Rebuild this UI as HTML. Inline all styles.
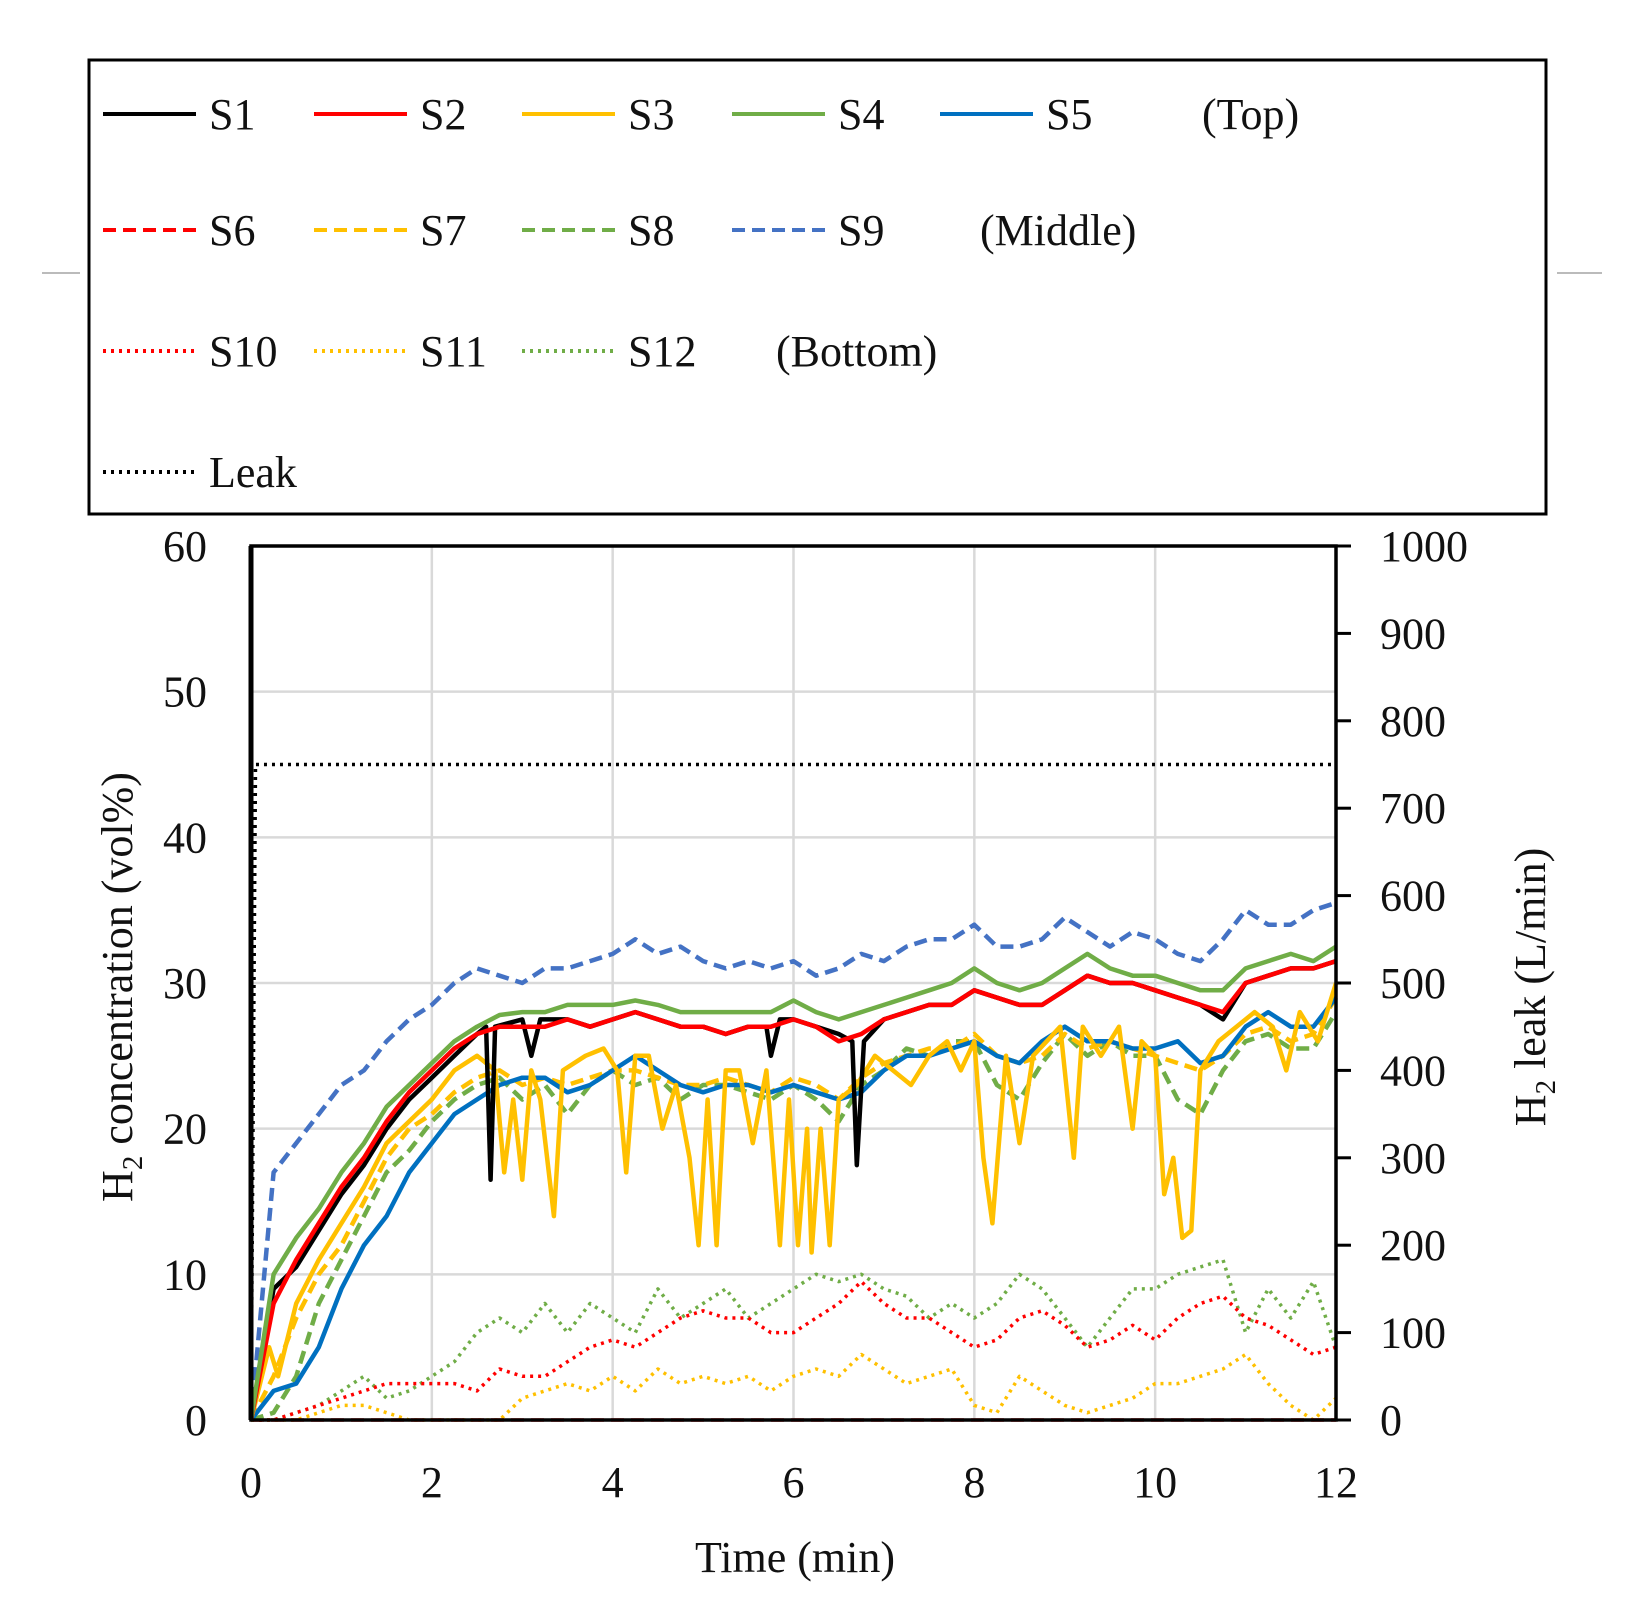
<!DOCTYPE html>
<html><head><meta charset="utf-8"><style>
html,body{margin:0;padding:0;background:#fff;}
svg{display:block;font-family:"Liberation Serif",serif;}
</style></head><body>
<svg id="chart" width="1648" height="1613" viewBox="0 0 1648 1613" xmlns="http://www.w3.org/2000/svg">
<g id="grid"></g>
<g id="series"></g>
<g id="axes"></g>
<g id="legend"></g>
</svg>
<script>
const NS="http://www.w3.org/2000/svg";
const xTicks=[0,2,4,6,8,10,12];
const yTicks=[0,10,20,30,40,50,60];
const y2Ticks=[0,100,200,300,400,500,600,700,800,900,1000];
const T=[0,0.25,0.5,0.75,1,1.25,1.5,1.75,2,2.25,2.5,2.75,3,3.25,3.5,3.75,4,4.25,4.5,4.75,5,5.25,5.5,5.75,6,6.25,6.5,6.75,7,7.25,7.5,7.75,8,8.25,8.5,8.75,9,9.25,9.5,9.75,10,10.25,10.5,10.75,11,11.25,11.5,11.75,12];
const s1Times=[0,0.25,0.5,0.75,1,1.25,1.5,1.75,2,2.25,2.5,2.6,2.65,2.7,3,3.1,3.2,3.5,3.75,4,4.25,4.5,4.75,5,5.25,5.5,5.7,5.75,5.85,6,6.25,6.5,6.65,6.7,6.78,7,7.25,7.5,7.75,8,8.25,8.5,8.75,9,9.25,9.5,9.75,10,10.25,10.5,10.75,11,11.25,11.5,11.75,12];
const s1Values=[0,9,10.5,13,15.5,17.5,20,22,23.5,25,26.5,27,16.5,27,27.5,25,27.5,27.5,27,27.5,28,27.5,27,27,26.5,27,27,25,27.5,27.5,27,26.5,26,17.5,26,27.5,28,28.5,28.5,29.5,29,28.5,28.5,29.5,30.5,30,30,29.5,29,28.5,27.5,30,30.5,31,31,31.5];
const s2Values=[0,8,11,13.5,16,18,20.5,22.5,24,25.5,26.5,27,27,27,27.5,27,27.5,28,27.5,27,27,26.5,27,27,27.5,27,26,26.5,27.5,28,28.5,28.5,29.5,29,28.5,28.5,29.5,30.5,30,30,29.5,29,28.5,28,30,30.5,31,31,31.5];
const s3Times=[0,0.2,0.3,0.5,0.75,1,1.25,1.5,1.75,2,2.25,2.5,2.7,2.8,2.9,3.0,3.1,3.2,3.35,3.45,3.7,3.9,4.05,4.15,4.25,4.4,4.55,4.7,4.85,4.95,5.05,5.15,5.25,5.4,5.55,5.7,5.85,5.95,6.05,6.15,6.2,6.3,6.4,6.5,6.7,6.9,7.1,7.3,7.5,7.7,7.85,8.0,8.1,8.2,8.35,8.5,8.65,8.8,8.95,9.1,9.2,9.4,9.6,9.75,9.85,10,10.1,10.2,10.3,10.4,10.5,10.7,10.9,11.1,11.3,11.45,11.6,11.8,12];
const s3Values=[0,5,3,8,11,13.5,16,19,20.5,22,24,25,24,17,22,16.5,24,22,14,24,25,25.5,24,17,25,25,20,23,18,12,22,12,24,24,19,24,12,22,12,20,11.5,20,12,22,23,25,24,23,25,26,24,26,18,13.5,25,19,25,26,27,18,27,25,27,20,26,25,15.5,18,12.5,13,24,26,27,28,27,24,28,26,30];
const s4Values=[0,10,12.5,14.5,17,19,21.5,23,24.5,26,27,27.8,28,28,28.5,28.5,28.5,28.8,28.5,28,28,28,28,28,28.8,28,27.5,28,28.5,29,29.5,30,31,30,29.5,30,31,32,31,30.5,30.5,30,29.5,29.5,31,31.5,32,31.5,32.5];
const s5Values=[0,2,2.5,5,9,12,14,17,19,21,22,23,23.5,23.5,22.5,23,24,25,24,23,22.5,23,23,22.5,23,22.5,22,22.5,24,25,25,25.5,26,25,24.5,26,27,26,26,25.5,25.5,26,24.5,25,27,28,27,27,29];
const s6Values=[0,0,0,0,0,0,0,0,0,0,0,0,0,0,0,0,0,0,0,0,0,0,0,0,0,0,0,0,0,0,0,0,0,0,0,0,0,0,0,0,0,0,0,0,0,0,0,0,0];
const s7Values=[0,3,7,10,12,15,18,20,21,22.5,23.5,24,23,23.5,23,23.5,24,24,23.5,23,23,23.5,23,22.5,23.5,23,22,23.5,24.5,25,25.5,25.5,26.5,25,24.5,25,26.5,25.5,26,25.5,25,24.5,24,25,26.5,27,26,26.5,29];
const s8Values=[0,0.5,3,8,11,14,17,18.5,20.5,22,23,23.5,22,23,21,23,24,23,23.5,22,23,23,22.5,22,23,22,20.5,23,24,25.5,25,26,26,23,22,24.5,26.5,25,26,25,25,22,21,24,26,26.5,25.5,25.5,28];
const s9Values=[0,17,19,21,23,24,26,27.5,28.5,30,31,30.5,30,31,31,31.5,32,33,32,32.5,31.5,31,31.5,31,31.5,30.5,31,32,31.5,32.5,33,33,34,32.5,32.5,33,34.5,33.5,32.5,33.5,33,32,31.5,33,35,34,34,35,35.5];
const s10Values=[0,0,0.5,1,1.5,2,2.5,2.5,2.5,2.5,2,3.5,3,3,4,5,5.5,5,6,7,7.5,7,7,6,6,7,8,9.5,8,7,7,6,5,5.5,7,7.5,6.5,5,5.5,6.5,5.5,7,8,8.5,7,6.5,5.5,4.5,5];
const s11Values=[0,0,0,0.5,1,1,0.5,0,0,0,0,0,1.5,2,2.5,2,3,2,3.5,2.5,3,2.5,3,2,3,3.5,3,4.5,3.5,2.5,3,3.5,1,0.5,3,2,1,0.5,1,1.5,2.5,2.5,3,3.5,4.5,2.5,1,0,1.5];
const s12Values=[0,0,0.5,1,2,3,1.5,2,3,4,6,7,6,8,6,8,7,6,9,7,8,9,7,8,9,10,9.5,10,9,8.5,7,8,7,8,10,9,7,5,7,9,9,10,10.5,11,6,9,7,9.5,5];
const leakTimes=[0,0.05,12];
const leakValues=[0,750,750];

const PL=251,PR=1336,PT=546,PB=1420;
const xs=t=>PL+(t-0)/12*(PR-PL);
const ys=v=>PB-v/60*(PB-PT);
const ys2=v=>PB-v/1000*(PB-PT);

function mk(tag,attrs,parent,text){const e=document.createElementNS(NS,tag);for(const k in attrs)e.setAttribute(k,attrs[k]);if(text!==undefined)e.textContent=text;parent.appendChild(e);return e;}
const grid=document.getElementById('grid'),ser=document.getElementById('series'),ax=document.getElementById('axes'),lg=document.getElementById('legend');

xTicks.forEach(t=>{if(t>0&&t<12){const l=mk('line',{x1:xs(t),x2:xs(t),y1:PT,y2:PB,stroke:'#d9d9d9','stroke-width':2.5},grid);

}});
yTicks.forEach(v=>{if(v>0&&v<60){const l=mk('line',{x1:PL,x2:PR,y1:ys(v),y2:ys(v),stroke:'#d9d9d9','stroke-width':2.5},grid);

}});

const C={k:'#000',r:'#ff0000',y:'#ffc000',g:'#70ad47',b:'#0070c0',b2:'#4472c4'};
const DASH='13,7',DOT='3,5';
const defs=[
 ['s12',T,s12Values,C.g,DOT,3.5],['s11',T,s11Values,C.y,DOT,3.5],['s10',T,s10Values,C.r,DOT,3.5],['s6',T,s6Values,C.r,DASH,3.5],
 ['s8',T,s8Values,C.g,DASH,4.5],['s7',T,s7Values,C.y,DASH,4.5],['s5',T,s5Values,C.b,null,4.5],['s3',s3Times,s3Values,C.y,null,4.5],
 ['s9',T,s9Values,C.b2,DASH,4.5],['s1',s1Times,s1Values,C.k,null,4.5],['s2',T,s2Values,C.r,null,4.5],['s4',T,s4Values,C.g,null,4.5]];
defs.forEach(d=>{const pts=d[1].map((t,i)=>xs(t).toFixed(1)+','+ys(d[2][i]).toFixed(1)).join(' ');
 const a={points:pts,fill:'none',stroke:d[3],'stroke-width':d[5],'stroke-linejoin':'round'};if(d[4])a['stroke-dasharray']=d[4];
 const p=mk('polyline',a,ser);
 
 });
const lk=mk('polyline',{points:leakTimes.map((t,i)=>xs(t).toFixed(1)+','+ys2(leakValues[i]).toFixed(1)).join(' '),fill:'none',stroke:'#000','stroke-width':3.5,'stroke-dasharray':'3,5'},ser);



const fr=mk('path',{d:`M${PL},${PB} L${PL},${PT} L${PR},${PT} L${PR},${PB} Z`,fill:'none',stroke:'#000','stroke-width':3.5},ax);


const la=mk('line',{x1:PL,x2:PL,y1:PT,y2:PB,stroke:'#000','stroke-width':5},ax);


const fs=44;
yTicks.forEach(v=>{const t=mk('text',{x:207,y:ys(v)+15,'text-anchor':'end','font-size':fs,fill:'#111'},ax,String(v));

});
y2Ticks.forEach(v=>{const tk=mk('line',{x1:PR,x2:1351,y1:ys2(v),y2:ys2(v),stroke:'#000','stroke-width':3},ax);


const t=mk('text',{x:1380,y:ys2(v)+15,'font-size':fs,fill:'#111'},ax,String(v));

});
xTicks.forEach(v=>{const t=mk('text',{x:xs(v),y:1497,'text-anchor':'middle','font-size':fs,fill:'#111'},ax,String(v));

});
const xt=mk('text',{x:795,y:1572,'text-anchor':'middle','font-size':fs,fill:'#111'},ax,'Time (min)');


const yt=mk('text',{transform:'translate(132,987) rotate(-90)','text-anchor':'middle','font-size':fs,fill:'#111'},ax);


yt.innerHTML='H<tspan font-size="29" dy="10">2</tspan><tspan dy="-10"> concentration  (vol%)</tspan>';
const yt2=mk('text',{transform:'translate(1545,987) rotate(-90)','text-anchor':'middle','font-size':fs,fill:'#111'},ax);


yt2.innerHTML='H<tspan font-size="29" dy="10">2</tspan><tspan dy="-10"> leak (L/min)</tspan>';

const gl1=mk('line',{x1:42,x2:80,y1:273,y2:273,stroke:'#bbb','stroke-width':2},lg);


const gl2=mk('line',{x1:1557,x2:1602,y1:273,y2:273,stroke:'#bbb','stroke-width':2},lg);


const box=mk('rect',{x:89,y:60,width:1457,height:454,fill:'#fff',stroke:'#000','stroke-width':3},lg);


const rows=[114,230,351,472];
const cols=[103,314,522,732,940];
const entries=[
 [0,0,'S1',C.k,null],[0,1,'S2',C.r,null],[0,2,'S3',C.y,null],[0,3,'S4',C.g,null],[0,4,'S5',C.b,null],
 [1,0,'S6',C.r,DASH],[1,1,'S7',C.y,DASH],[1,2,'S8',C.g,DASH],[1,3,'S9',C.b2,DASH],
 [2,0,'S10',C.r,DOT],[2,1,'S11',C.y,DOT],[2,2,'S12',C.g,DOT],[3,0,'Leak','#000',DOT]];
entries.forEach(e=>{const y=rows[e[0]],x=cols[e[1]];
 const a={x1:x,x2:x+93,y1:y,y2:y,stroke:e[3],'stroke-width':4};if(e[4])a['stroke-dasharray']=e[4];
 const l=mk('line',a,lg);
 
 
 const t=mk('text',{x:x+106,y:y+15,'font-size':fs,fill:'#111'},lg,e[2]);
 
 });
[['(Top)',1202,114],['(Middle)',980,230],['(Bottom)',776,351]].forEach(g=>{const t=mk('text',{x:g[1],y:g[2]+15,'font-size':fs,fill:'#111'},lg,g[0]);
 
 });
</script>
</body></html>
